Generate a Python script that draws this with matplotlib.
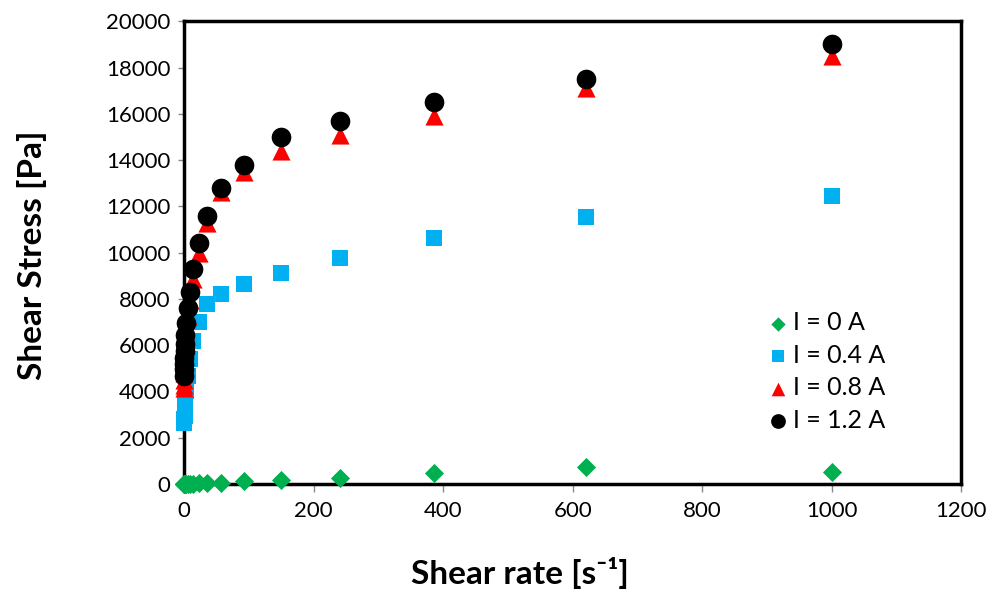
import numpy as np
import matplotlib
matplotlib.use('Agg')
import matplotlib.pyplot as plt

plt.rcParams['font.family'] = ['Lato', 'DejaVu Sans']

# shear rate sweep [1/s], same for all currents
shear_rate = [1000, 621, 386, 240, 149, 92.6, 57.6, 35.8, 22.2, 13.8,
              8.59, 5.34, 3.32, 2.06, 1.28, 0.797, 0.495, 0.308, 0.191, 0.119]

# shear stress [Pa] per coil current
stress_0A = [520, 740, 480, 270, 180, 110, 60, 40, 30, 20,
             15, 12, 10, 8, 7, 6, 5, 5, 4, 4]
stress_04A = [12430, 11530, 10620, 9760, 9120, 8650, 8220, 7780, 7010, 6200,
              5420, 4650, 4000, 3550, 3200, 2950, 2800, 2720, 2680, 2650]
stress_08A = [18500, 17100, 15900, 15100, 14400, 13500, 12600, 11300, 10000, 8850,
              7950, 7250, 6600, 6000, 5550, 5150, 4800, 4500, 4300, 4150]
stress_12A = [19000, 17500, 16500, 15700, 15000, 13800, 12800, 11600, 10400, 9300,
              8300, 7600, 6950, 6450, 6050, 5750, 5450, 5200, 4950, 4650]

labels = ['I = 0 A', 'I = 0.4 A', 'I = 0.8 A', 'I = 1.2 A']

fontsize = 16

fig = plt.figure(figsize=(9.9, 5.91), dpi=100)
ax = fig.add_axes([0.186, 0.181, 0.785, 0.783])

ax.scatter(shear_rate, stress_0A, marker='D', s=95, color='#00B050',
           linewidths=0, label=labels[0], zorder=3, clip_on=False)
ax.scatter(shear_rate, stress_04A, marker='s', s=130, color='#00B0F0',
           linewidths=0, label=labels[1], zorder=4, clip_on=False)
ax.scatter(shear_rate, stress_08A, marker='^', s=170, color='#FF0000',
           linewidths=0, label=labels[2], zorder=5, clip_on=False)
ax.scatter(shear_rate, stress_12A, marker='o', s=200, color='black',
           linewidths=0, label=labels[3], zorder=6, clip_on=False)

ax.set_xlim(0, 1200)
ax.set_ylim(0, 20000)
ax.set_xticks(np.arange(0, 1201, 200))
ax.set_yticks(np.arange(0, 20001, 2000))

for sp in ax.spines.values():
    sp.set_linewidth(2.5)
    sp.set_color('black')

ax.tick_params(axis='both', direction='out', color='#888888', width=1,
               labelsize=fontsize, pad=6)
ax.tick_params(axis='x', length=6)
ax.tick_params(axis='y', length=4)

ax.set_xlabel('Shear rate [s\u207b\u00b9]', fontsize=24, fontweight='bold')
ax.set_ylabel('Shear Stress [Pa]', fontsize=24, fontweight='bold')
ax.xaxis.set_label_coords(0.432, -0.158)
ax.yaxis.set_label_coords(-0.176, 0.495)

ax.legend(loc='upper left', bbox_to_anchor=(0.738, 0.395), frameon=False,
          fontsize=18, handlelength=0.8, handletextpad=0.2, markerscale=0.75,
          labelspacing=0.38, borderaxespad=0)

plt.savefig('out.png', dpi=100)
